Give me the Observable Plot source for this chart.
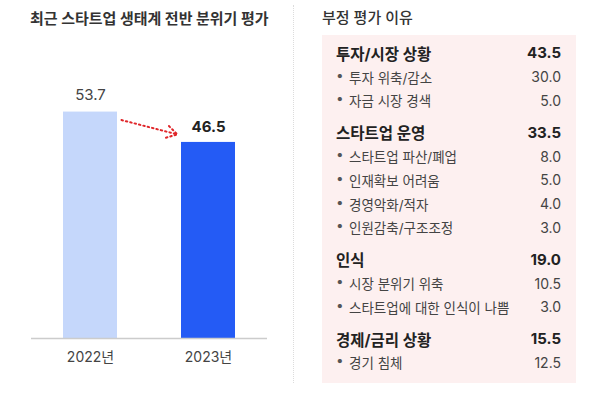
<!DOCTYPE html>
<html>
<head>
<meta charset="utf-8">
<script src="https://cdn.jsdelivr.net/npm/d3@7"></script>
<script src="https://cdn.jsdelivr.net/npm/@observablehq/plot@0.6"></script>
<style>
  html, body { margin: 0; padding: 0; background: #fff; }
  body { width: 600px; height: 393px; overflow: hidden; font-family: Inter, "Noto Sans CJK KR", "Noto Sans", sans-serif; }
  #wrap { position: relative; width: 600px; height: 393px; }
  #ltitle { position: absolute; left: 30px; top: 7px; font-size: 15px; font-weight: 700; color: #333; white-space: nowrap; }
  #chart { position: absolute; left: 0; top: 35px; }
  #sep { position: absolute; left: 293px; top: 5px; height: 378px; border-left: 1.5px dotted #dcdcdc; }
  #rtitle { position: absolute; left: 322px; top: 6px; font-size: 15px; font-weight: 500; color: #333; white-space: nowrap; }
  #box { position: absolute; left: 322px; top: 35px; width: 254px; height: 348px; background: #fdf0f0; box-sizing: border-box; padding: 6px 15px 0 14px; overflow: hidden; }
  .row { display: flex; justify-content: space-between; align-items: center; height: 23.8px; white-space: nowrap; }
  .grp + .grp { margin-top: 8px; }
  .head { font-size: 15.5px; font-weight: 700; color: #222; }
  .head .v { font-size: 15px; font-weight: 700; color: #222; }
  .item { font-size: 13.5px; color: #444; }
  .item .n { position: relative; padding-left: 13px; }
  .item .n::before { content: "•"; position: absolute; left: 0; color: #555; }
  .item .v { font-size: 14px; color: #444; }
</style>
</head>
<body>
<div id="wrap">
  <div id="ltitle">최근 스타트업 생태계 전반 분위기 평가</div>
  <div id="chart"></div>
  <div id="sep"></div>
  <div id="rtitle">부정 평가 이유</div>
  <div id="box"></div>
</div>
<script>
// ---- Left chart data ----
const years = ["2022년", "2023년"];
const scores = [53.7, 46.5];

// ---- Right table data ----
const groupNames = ["투자/시장 상황", "스타트업 운영", "인식", "경제/금리 상황"];
const groupValues = [43.5, 33.5, 19.0, 15.5];
const itemNames = [
  ["투자 위축/감소", "자금 시장 경색"],
  ["스타트업 파산/폐업", "인재확보 어려움", "경영악화/적자", "인원감축/구조조정"],
  ["시장 분위기 위축", "스타트업에 대한 인식이 나쁨"],
  ["경기 침체"]
];
const itemValues = [
  [30.0, 5.0],
  [8.0, 5.0, 4.0, 3.0],
  [10.5, 3.0],
  [12.5]
];

const data = years.map((year, i) => ({year, score: scores[i]}));
const link = [{from: years[0], to: years[1], v1: scores[0], v2: scores[1]}];

const chart = Plot.plot({
  width: 290,
  height: 358,
  marginTop: 50,
  marginBottom: 55,
  marginLeft: 31,
  marginRight: 23,
  x: {domain: years, paddingInner: 0.546, paddingOuter: 0.265, label: null, tickSize: 0, tickPadding: 14},
  y: {domain: [0, 60], axis: null},
  color: {domain: years, range: ["#c5d7fb", "#245bf5"]},
  style: {fontFamily: "Inter, 'Noto Sans CJK KR', 'Noto Sans', sans-serif", fontSize: "14px", color: "#444", background: "transparent"},
  marks: [
    Plot.barY(data, {x: "year", y: "score", fill: "year"}),
    Plot.ruleY([0], {stroke: "#cccccc", strokeWidth: 1.5}),
    Plot.text([data[0]], {x: "year", y: "score", text: d => d.score.toFixed(1), lineAnchor: "bottom", dy: -12, fontSize: 15, fill: "#444"}),
    Plot.text([data[1]], {x: "year", y: "score", text: d => d.score.toFixed(1), lineAnchor: "bottom", dy: -10, fontSize: 15, fontWeight: "bold", fill: "#222"}),
    Plot.arrow(link, {
      x1: "from", y1: "v1", x2: "to", y2: "v2",
      insetStart: 32, insetEnd: 32,
      stroke: "#e0262a", strokeWidth: 2, strokeDasharray: "1.5,3", strokeLinecap: "round",
      headLength: 9
    })
  ]
});
document.getElementById("chart").appendChild(chart);

// Build the right-hand table
const box = document.getElementById("box");
const fmt = v => v.toFixed(1);
groupNames.forEach((g, gi) => {
  const grp = document.createElement("div");
  grp.className = "grp";
  const h = document.createElement("div");
  h.className = "row head";
  h.innerHTML = `<span class="n"></span><span class="v"></span>`;
  h.querySelector(".n").textContent = g;
  h.querySelector(".v").textContent = fmt(groupValues[gi]);
  grp.appendChild(h);
  itemNames[gi].forEach((name, ii) => {
    const r = document.createElement("div");
    r.className = "row item";
    r.innerHTML = `<span class="n"></span><span class="v"></span>`;
    r.querySelector(".n").textContent = name;
    r.querySelector(".v").textContent = fmt(itemValues[gi][ii]);
    grp.appendChild(r);
  });
  box.appendChild(grp);
});
</script>
</body>
</html>
